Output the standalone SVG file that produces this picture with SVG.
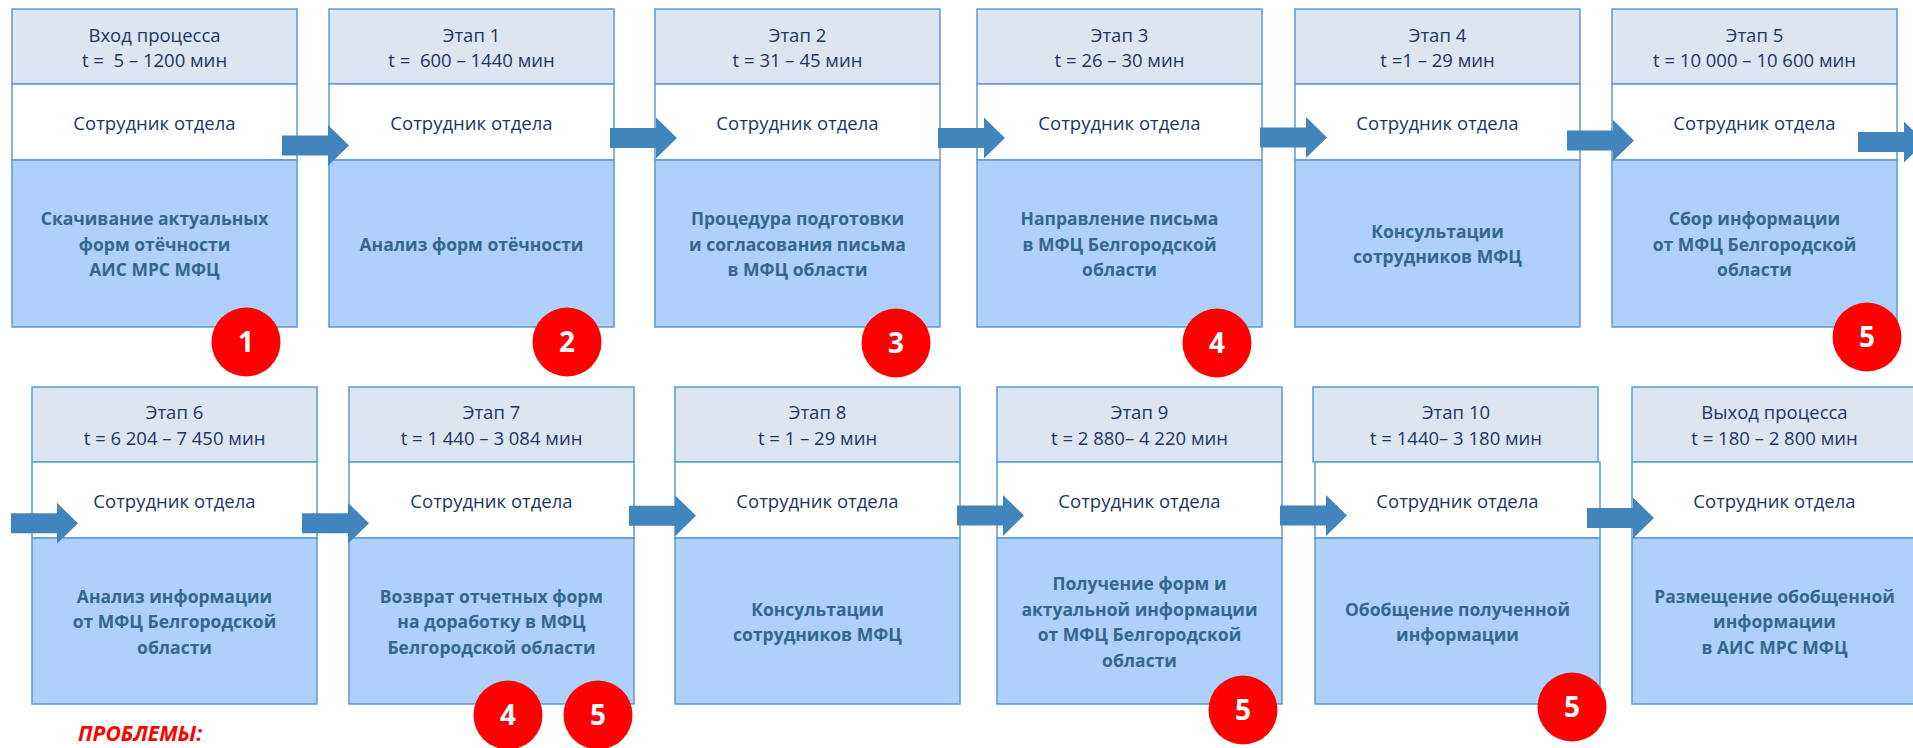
<svg xmlns="http://www.w3.org/2000/svg" xmlns:xlink="http://www.w3.org/1999/xlink" width="1913" height="748" viewBox="0 0 1913 748">
  <style>
    .hdr { fill: #dbe6f1; stroke: #5b9bd5; stroke-width: 1.5; }
    .mid { fill: #ffffff; stroke: #5b9bd5; stroke-width: 1.5; }
    .body { fill: #afd0fb; stroke: #5b9bd5; stroke-width: 1.5; }
    .t { font-family: "Open Sans", "Noto Sans", "DejaVu Sans", sans-serif; font-size: 18.5px; fill: #1c3664; text-anchor: middle; white-space: pre; }
    .b { font-family: "Open Sans", "Noto Sans", "DejaVu Sans", sans-serif; font-size: 17.5px; font-weight: bold; fill: #35668f; text-anchor: middle; }
    .arrow { fill: #4285bd; }
    .badge { fill: #ff0000; }
    .num { font-family: "Open Sans", "Noto Sans", "DejaVu Sans", sans-serif; font-size: 28px; font-weight: bold; fill: #ffffff; text-anchor: middle; }
    .problems { font-family: "Open Sans", "Noto Sans", "DejaVu Sans", sans-serif; font-size: 21px; font-weight: bold; font-style: italic; fill: #ff0000; }
  </style>
  <defs>
    <!-- block arrow, tail at x=0, centred on y=0 -->
    <path id="arr" d="M0,-10 H46 V-20.5 L67,0 L46,20.5 V10 H0 Z"/>
  </defs>

  <!-- top row: x 12..1612, header 9-84, performer 84-160, action 160-327 -->
  <g id="node-in">
    <rect class="hdr" x="12" y="9" width="285" height="75"/>
    <rect class="mid" x="12" y="84" width="285" height="76"/>
    <rect class="body" x="12" y="160" width="285" height="167"/>
    <text class="t" x="154.5" y="42">Вход процесса</text>
    <text class="t" x="154.5" y="67">t =  5 – 1200 мин</text>
    <text class="t" x="154.5" y="130">Сотрудник отдела</text>
    <text class="b" x="154.5" y="225">Скачивание актуальных</text>
    <text class="b" x="154.5" y="250.5">форм отёчности</text>
    <text class="b" x="154.5" y="276">АИС МРС МФЦ</text>
  </g>
  <g id="node-1">
    <rect class="hdr" x="329" y="9" width="285" height="75"/>
    <rect class="mid" x="329" y="84" width="285" height="76"/>
    <rect class="body" x="329" y="160" width="285" height="167"/>
    <text class="t" x="471.5" y="42">Этап 1</text>
    <text class="t" x="471.5" y="67">t =  600 – 1440 мин</text>
    <text class="t" x="471.5" y="130">Сотрудник отдела</text>
    <text class="b" x="471.5" y="250.5">Анализ форм отёчности</text>
  </g>
  <g id="node-2">
    <rect class="hdr" x="655" y="9" width="285" height="75"/>
    <rect class="mid" x="655" y="84" width="285" height="76"/>
    <rect class="body" x="655" y="160" width="285" height="167"/>
    <text class="t" x="797.5" y="42">Этап 2</text>
    <text class="t" x="797.5" y="67">t = 31 – 45 мин</text>
    <text class="t" x="797.5" y="130">Сотрудник отдела</text>
    <text class="b" x="797.5" y="225">Процедура подготовки</text>
    <text class="b" x="797.5" y="250.5">и согласования письма</text>
    <text class="b" x="797.5" y="276">в МФЦ области</text>
  </g>
  <g id="node-3">
    <rect class="hdr" x="977" y="9" width="285" height="75"/>
    <rect class="mid" x="977" y="84" width="285" height="76"/>
    <rect class="body" x="977" y="160" width="285" height="167"/>
    <text class="t" x="1119.5" y="42">Этап 3</text>
    <text class="t" x="1119.5" y="67">t = 26 – 30 мин</text>
    <text class="t" x="1119.5" y="130">Сотрудник отдела</text>
    <text class="b" x="1119.5" y="225">Направление письма</text>
    <text class="b" x="1119.5" y="250.5">в МФЦ Белгородской</text>
    <text class="b" x="1119.5" y="276">области</text>
  </g>
  <g id="node-4">
    <rect class="hdr" x="1295" y="9" width="285" height="75"/>
    <rect class="mid" x="1295" y="84" width="285" height="76"/>
    <rect class="body" x="1295" y="160" width="285" height="167"/>
    <text class="t" x="1437.5" y="42">Этап 4</text>
    <text class="t" x="1437.5" y="67">t =1 – 29 мин</text>
    <text class="t" x="1437.5" y="130">Сотрудник отдела</text>
    <text class="b" x="1437.5" y="238">Консультации</text>
    <text class="b" x="1437.5" y="263">сотрудников МФЦ</text>
  </g>
  <g id="node-5">
    <rect class="hdr" x="1612" y="9" width="285" height="75"/>
    <rect class="mid" x="1612" y="84" width="285" height="76"/>
    <rect class="body" x="1612" y="160" width="285" height="167"/>
    <text class="t" x="1754.5" y="42">Этап 5</text>
    <text class="t" x="1754.5" y="67">t = 10 000 – 10 600 мин</text>
    <text class="t" x="1754.5" y="130">Сотрудник отдела</text>
    <text class="b" x="1754.5" y="225">Сбор информации</text>
    <text class="b" x="1754.5" y="250.5">от МФЦ Белгородской</text>
    <text class="b" x="1754.5" y="276">области</text>
  </g>

  <!-- bottom row: header 387-462, performer 462-538, action 538-704 -->
  <g id="node-6">
    <rect class="hdr" x="32" y="387" width="285" height="75"/>
    <rect class="mid" x="32" y="462" width="285" height="76"/>
    <rect class="body" x="32" y="538" width="285" height="166"/>
    <text class="t" x="174.5" y="419">Этап 6</text>
    <text class="t" x="174.5" y="445">t = 6 204 – 7 450 мин</text>
    <text class="t" x="174.5" y="508">Сотрудник отдела</text>
    <text class="b" x="174.5" y="602.5">Анализ информации</text>
    <text class="b" x="174.5" y="628">от МФЦ Белгородской</text>
    <text class="b" x="174.5" y="653.5">области</text>
  </g>
  <g id="node-7">
    <rect class="hdr" x="349" y="387" width="285" height="75"/>
    <rect class="mid" x="349" y="462" width="285" height="76"/>
    <rect class="body" x="349" y="538" width="285" height="166"/>
    <text class="t" x="491.5" y="419">Этап 7</text>
    <text class="t" x="491.5" y="445">t = 1 440 – 3 084 мин</text>
    <text class="t" x="491.5" y="508">Сотрудник отдела</text>
    <text class="b" x="491.5" y="602.5">Возврат отчетных форм</text>
    <text class="b" x="491.5" y="628">на доработку в МФЦ</text>
    <text class="b" x="491.5" y="653.5">Белгородской области</text>
  </g>
  <g id="node-8">
    <rect class="hdr" x="675" y="387" width="285" height="75"/>
    <rect class="mid" x="675" y="462" width="285" height="76"/>
    <rect class="body" x="675" y="538" width="285" height="166"/>
    <text class="t" x="817.5" y="419">Этап 8</text>
    <text class="t" x="817.5" y="445">t = 1 – 29 мин</text>
    <text class="t" x="817.5" y="508">Сотрудник отдела</text>
    <text class="b" x="817.5" y="615.5">Консультации</text>
    <text class="b" x="817.5" y="641">сотрудников МФЦ</text>
  </g>
  <g id="node-9">
    <rect class="hdr" x="997" y="387" width="285" height="75"/>
    <rect class="mid" x="997" y="462" width="285" height="76"/>
    <rect class="body" x="997" y="538" width="285" height="166"/>
    <text class="t" x="1139.5" y="419">Этап 9</text>
    <text class="t" x="1139.5" y="445">t = 2 880– 4 220 мин</text>
    <text class="t" x="1139.5" y="508">Сотрудник отдела</text>
    <text class="b" x="1139.5" y="590">Получение форм и</text>
    <text class="b" x="1139.5" y="615.5">актуальной информации</text>
    <text class="b" x="1139.5" y="641">от МФЦ Белгородской</text>
    <text class="b" x="1139.5" y="666.5">области</text>
  </g>
  <g id="node-10">
    <rect class="hdr" x="1313" y="387" width="285" height="75"/>
    <rect class="mid" x="1315" y="462" width="285" height="76"/>
    <rect class="body" x="1315" y="538" width="285" height="166"/>
    <text class="t" x="1456" y="419">Этап 10</text>
    <text class="t" x="1456" y="445">t = 1440– 3 180 мин</text>
    <text class="t" x="1457.5" y="508">Сотрудник отдела</text>
    <text class="b" x="1457.5" y="615.5">Обобщение полученной</text>
    <text class="b" x="1457.5" y="641">информации</text>
  </g>
  <g id="node-out">
    <rect class="hdr" x="1632" y="387" width="285" height="75"/>
    <rect class="mid" x="1632" y="462" width="285" height="76"/>
    <rect class="body" x="1632" y="538" width="285" height="166"/>
    <text class="t" x="1774.5" y="419">Выход процесса</text>
    <text class="t" x="1774.5" y="445">t = 180 – 2 800 мин</text>
    <text class="t" x="1774.5" y="508">Сотрудник отдела</text>
    <text class="b" x="1774.5" y="602.5">Размещение обобщенной</text>
    <text class="b" x="1774.5" y="628">информации</text>
    <text class="b" x="1774.5" y="653.5">в АИС МРС МФЦ</text>
  </g>

  <!-- connectors -->
  <g id="connectors" class="arrow">
    <use xlink:href="#arr" x="282" y="145.5"/>
    <use xlink:href="#arr" x="610" y="138"/>
    <use xlink:href="#arr" x="938" y="138"/>
    <use xlink:href="#arr" x="1260" y="137.5"/>
    <use xlink:href="#arr" x="1567" y="140.5"/>
    <use xlink:href="#arr" x="1858" y="142"/>
    <use xlink:href="#arr" x="11" y="523.3"/>
    <use xlink:href="#arr" x="302" y="523.3"/>
    <use xlink:href="#arr" x="629" y="515.7"/>
    <use xlink:href="#arr" x="957" y="515.5"/>
    <use xlink:href="#arr" x="1280" y="515.5"/>
    <use xlink:href="#arr" x="1587" y="518"/>
  </g>

  <!-- numbered problem markers -->
  <g id="markers">
    <circle class="badge" cx="246" cy="342" r="34.5"/>
    <text class="num" x="246" y="352">1</text>
    <circle class="badge" cx="567" cy="342" r="34.5"/>
    <text class="num" x="567" y="352">2</text>
    <circle class="badge" cx="896" cy="343" r="34.5"/>
    <text class="num" x="896" y="353">3</text>
    <circle class="badge" cx="1217" cy="343" r="34.5"/>
    <text class="num" x="1217" y="353">4</text>
    <circle class="badge" cx="1867" cy="337" r="34.5"/>
    <text class="num" x="1867" y="347">5</text>
    <circle class="badge" cx="508" cy="715" r="34.5"/>
    <text class="num" x="508" y="725">4</text>
    <circle class="badge" cx="598" cy="715" r="34.5"/>
    <text class="num" x="598" y="725">5</text>
    <circle class="badge" cx="1243" cy="710" r="34.5"/>
    <text class="num" x="1243" y="720">5</text>
    <circle class="badge" cx="1572" cy="707" r="34.5"/>
    <text class="num" x="1572" y="717">5</text>
  </g>

  <text class="problems" x="78" y="741">ПРОБЛЕМЫ:</text>
</svg>
